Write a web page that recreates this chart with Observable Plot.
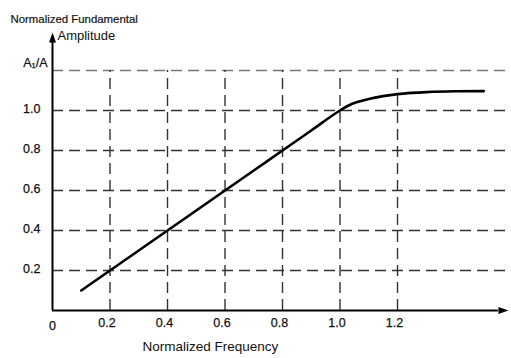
<!DOCTYPE html>
<html><head><meta charset="utf-8">
<script src="https://cdn.jsdelivr.net/npm/d3@7"></script>
<script src="https://cdn.jsdelivr.net/npm/@observablehq/plot@0.6"></script>
<style>body{margin:0;background:#fff} #chart svg{font-family:"Liberation Sans",Arial,sans-serif}</style>
</head><body><div id="chart"></div>
<script>
const freq = [0.1, 0.2, 0.3, 0.4, 0.5, 0.6, 0.7, 0.8, 0.9, 1.0, 1.03, 1.06, 1.1, 1.15, 1.2, 1.25, 1.3, 1.4, 1.5];
const amp  = [0.1, 0.2, 0.3, 0.4, 0.5, 0.6, 0.7, 0.8, 0.9, 1.0, 1.025, 1.042, 1.058, 1.072, 1.082, 1.088, 1.092, 1.096, 1.097];
const xTicks = [0.2, 0.4, 0.6, 0.8, 1.0, 1.2];
const yTicks = [0.2, 0.4, 0.6, 0.8, 1.0];
const yTopTick = 1.2;
const yTopLabel = "A\u2081/A";
const xTitle = "Normalized Frequency";
const yTitle1 = "Normalized Fundamental";
const yTitle2 = "Amplitude";
const originLabel = "0";

const curve = freq.map((f, i) => ({f, a: amp[i]}));
const xMax = 1.586, yMax = 1.4;
const gridXEnd = 1.576, axisXEnd = 1.551, axisYEnd = 1.34;

const upTri = {draw(ctx) { ctx.moveTo(0, -10); ctx.lineTo(3.5, 0); ctx.lineTo(-3.5, 0); ctx.closePath(); }};

const chart = Plot.plot({
  width: 511, height: 358,
  marginLeft: 52, marginRight: 3, marginTop: 30, marginBottom: 48,
  x: {domain: [0, xMax], axis: null},
  y: {domain: [0, yMax], axis: null},
  style: {fontSize: "12px", color: "#111", background: "#fff"},
  marks: [
    // horizontal dashed grid
    Plot.ruleY(yTicks, {x1: 0, x2: gridXEnd, stroke: "#333", strokeWidth: 1.6, strokeDasharray: "11,6"}),
    Plot.ruleY([yTopTick], {x1: 0, x2: gridXEnd, stroke: "#777", strokeWidth: 1.6, strokeDasharray: "11,6"}),
    // vertical dashed grid
    Plot.ruleX(xTicks, {y1: 0, y2: yTopTick, stroke: "#333", strokeWidth: 1.4, strokeDasharray: "11,6"}),
    // axes
    Plot.ruleX([0], {y1: 0, y2: axisYEnd, stroke: "#000", strokeWidth: 2}),
    Plot.ruleY([0], {x1: 0, x2: axisXEnd, stroke: "#000", strokeWidth: 2}),
    Plot.dot([0], {x: 0, y: axisYEnd, symbol: upTri, fill: "#000", stroke: "none"}),
    Plot.dot([0], {x: axisXEnd, y: 0, symbol: upTri, fill: "#000", stroke: "none", rotate: 90}),
    // curve
    Plot.line(curve, {x: "f", y: "a", stroke: "#000", strokeWidth: 2.6, curve: "monotone-x"}),
    // tick labels
    Plot.text(yTicks, {x: 0, y: d => d, text: d => d.toFixed(1), textAnchor: "end", dx: -12, dy: -2, fontSize: 12.5, fill: "#111", stroke: "#111", strokeWidth: 0.25}),
    Plot.text([yTopTick], {x: 0, y: d => d, text: [yTopLabel], textAnchor: "end", dx: -5, dy: -8, fontSize: 12.5, fill: "#111", stroke: "#111", strokeWidth: 0.25}),
    Plot.text(xTicks, {x: d => d, y: 0, text: d => d.toFixed(1), dy: 12, dx: -3, fontSize: 12.5, fill: "#111", stroke: "#111", strokeWidth: 0.25}),
    Plot.text([0], {x: 0, y: 0, text: [originLabel], dy: 15, fontSize: 12.5, fill: "#111", stroke: "#111", strokeWidth: 0.25}),
    // titles
    Plot.text([xTitle], {frameAnchor: "bottom-left", dx: 90, dy: 40, text: d => d, textAnchor: "start", fontSize: 13.5, fill: "#111"}),
    Plot.text([yTitle1], {frameAnchor: "top-left", dx: -42, dy: -16, text: d => d, textAnchor: "start", fontSize: 11.4, fill: "#111", stroke: "#111", strokeWidth: 0.2}),
    Plot.text([yTitle2], {frameAnchor: "top-left", dx: 5, dy: 0, text: d => d, textAnchor: "start", fontSize: 13, fill: "#111"})
  ]
});
document.getElementById("chart").append(chart);
</script>
</body></html>
